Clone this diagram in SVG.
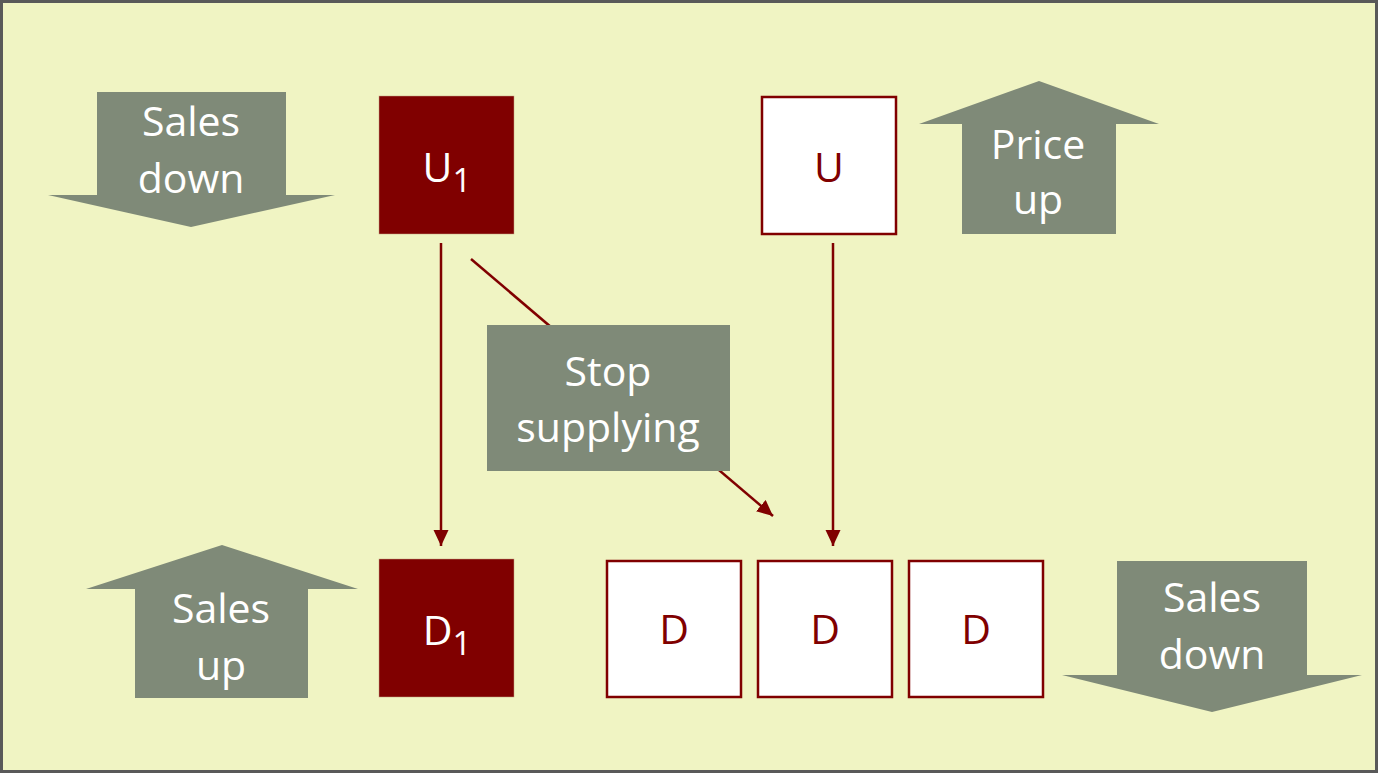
<svg xmlns="http://www.w3.org/2000/svg" width="1378" height="773" viewBox="0 0 1378 773">
<style>
.lbl{font-family:"Open Sans","Liberation Sans",sans-serif;font-size:41px;fill:#ffffff;text-anchor:middle}
.blk{fill:#7f8a78}
.dark{fill:#800000;stroke:#c0a080;stroke-width:0.5}
.wbox{fill:#ffffff;stroke:#800000;stroke-width:2.5}
.rtxt{font-family:"Open Sans","Liberation Sans",sans-serif;font-size:41px;fill:#800000;text-anchor:middle}
.conn{stroke:#800000;stroke-width:2.5;fill:none;marker-end:url(#ah)}
</style>
<defs>
<marker id="ah" markerUnits="userSpaceOnUse" markerWidth="18" markerHeight="16" refX="16" refY="7.5" orient="auto">
<path d="M0,0 L16,7.5 L0,15 z" fill="#800000"/>
</marker>
</defs>
<rect x="1.5" y="1.5" width="1375" height="770" fill="#f0f4c3" stroke="#595959" stroke-width="3"/>
<g id="connectors">
<line class="conn" x1="441" y1="243" x2="441" y2="546"/>
<line class="conn" x1="833" y1="243" x2="833" y2="546"/>
<line class="conn" x1="471" y1="259" x2="773" y2="516"/>
</g>
<g id="sales-down-left">
<polygon class="blk" points="97,92 286,92 286,195 335,195 191,227 48,195 97,195"/>
<text class="lbl" x="191" y="136">Sales</text>
<text class="lbl" x="191" y="193">down</text>
</g>
<g id="U1">
<rect class="dark" x="379" y="96" width="135" height="138"/>
<text class="lbl" x="447" y="182">U<tspan font-size="33" dy="10">1</tspan></text>
</g>
<g id="U">
<rect class="wbox" x="762" y="97" width="134" height="137"/>
<text class="rtxt" x="829" y="182">U</text>
</g>
<g id="price-up">
<polygon class="blk" points="1039,81 1159,124 1116,124 1116,234 962,234 962,124 919,124"/>
<text class="lbl" x="1038" y="159">Price</text>
<text class="lbl" x="1038" y="214">up</text>
</g>
<g id="stop-supplying">
<rect class="blk" x="487" y="325" width="243" height="146"/>
<text class="lbl" x="608" y="386">Stop</text>
<text class="lbl" x="608" y="442">supplying</text>
</g>
<g id="sales-up">
<polygon class="blk" points="222,545 358,589 308,589 308,698 135,698 135,589 86,589"/>
<text class="lbl" x="221" y="623">Sales</text>
<text class="lbl" x="221" y="680">up</text>
</g>
<g id="D1">
<rect class="dark" x="379" y="559" width="135" height="138"/>
<text class="lbl" x="447" y="645">D<tspan font-size="33" dy="10">1</tspan></text>
</g>
<g id="D-a">
<rect class="wbox" x="607" y="561" width="134" height="136"/>
<text class="rtxt" x="674" y="644">D</text>
</g>
<g id="D-b">
<rect class="wbox" x="758" y="561" width="134" height="136"/>
<text class="rtxt" x="825" y="644">D</text>
</g>
<g id="D-c">
<rect class="wbox" x="909" y="561" width="134" height="136"/>
<text class="rtxt" x="976" y="644">D</text>
</g>
<g id="sales-down-right">
<polygon class="blk" points="1117,561 1307,561 1307,675 1362,675 1212,712 1062,675 1117,675"/>
<text class="lbl" x="1212" y="612">Sales</text>
<text class="lbl" x="1212" y="669">down</text>
</g>
</svg>
